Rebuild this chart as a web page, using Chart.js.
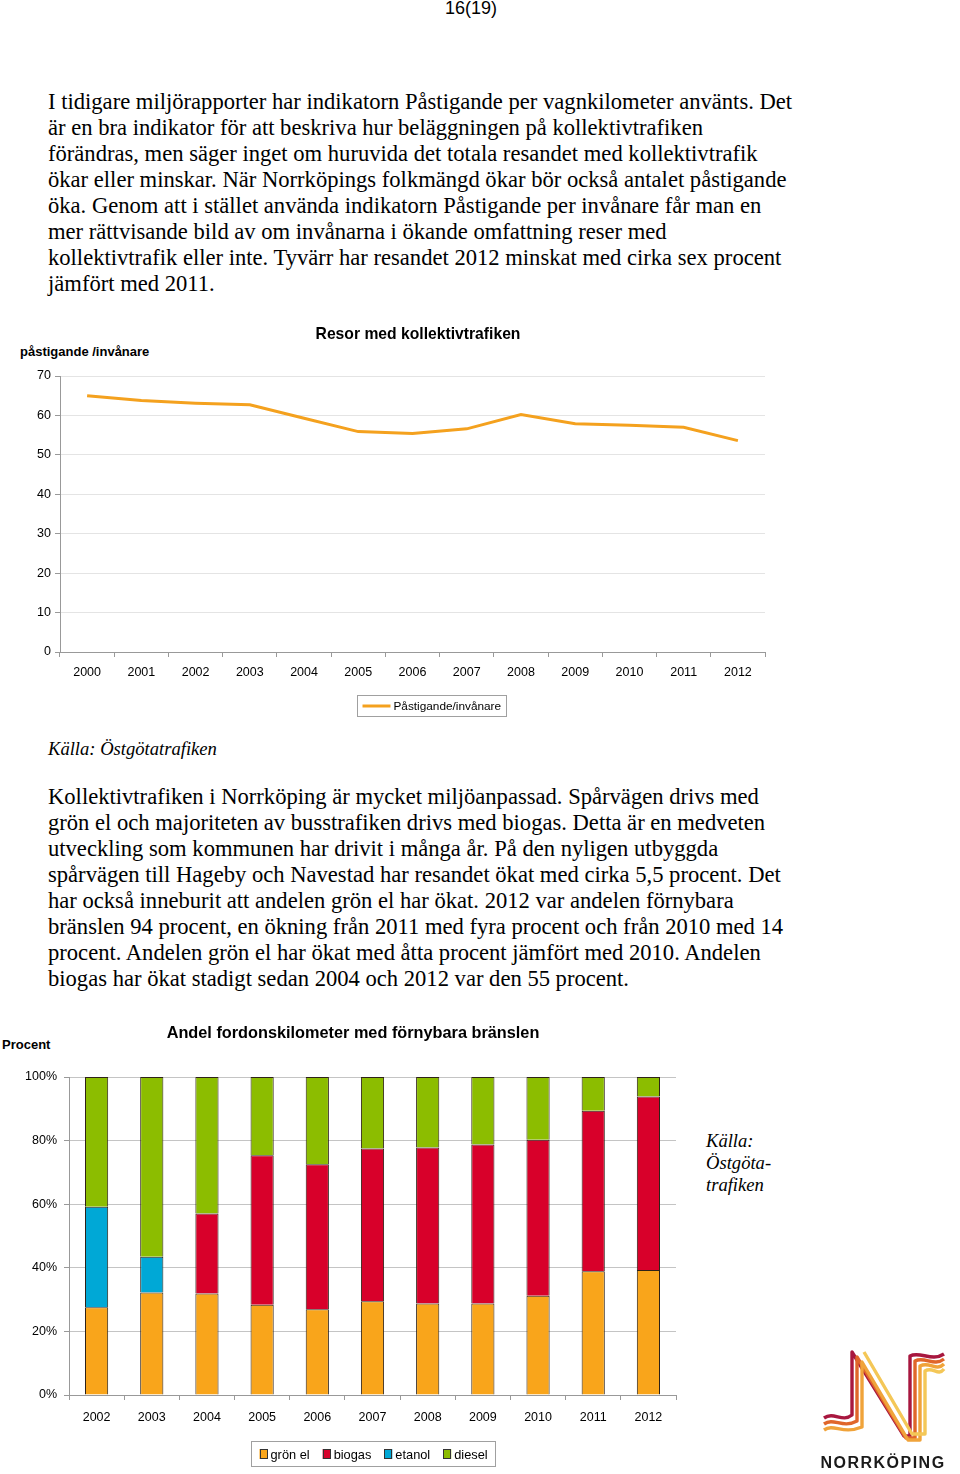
<!DOCTYPE html>
<html>
<head>
<meta charset="utf-8">
<script src="https://cdn.jsdelivr.net/npm/chart.js@4/dist/chart.umd.min.js"></script>
<style>
  html, body { margin: 0; padding: 0; background: #fff; }
  body { width: 960px; height: 1474px; position: relative; overflow: hidden; }
  .t { position: absolute; white-space: nowrap; color: #000; }
  .body { font-family: "Liberation Serif", "Times New Roman", serif; font-size: 22.6px; line-height: 26px; left: 48px; }
  .src { font-family: "Liberation Serif", serif; font-style: italic; font-size: 18.6px; }
  .hdr { font-family: "Liberation Sans", Arial, sans-serif; font-size: 18px; }
  .cap { font-family: "Liberation Sans", Arial, sans-serif; font-weight: bold; font-size: 13px; }
  canvas { position: absolute; }
</style>
</head>
<body>

<div class="t hdr" style="left:445px; top:-2px;">16(19)</div>

<div class="t body" style="top:89px;">
I tidigare miljörapporter har indikatorn Påstigande per vagnkilometer använts. Det<br>
är en bra indikator för att beskriva hur beläggningen på kollektivtrafiken<br>
förändras, men säger inget om huruvida det totala resandet med kollektivtrafik<br>
ökar eller minskar. När Norrköpings folkmängd ökar bör också antalet påstigande<br>
öka. Genom att i stället använda indikatorn Påstigande per invånare får man en<br>
mer rättvisande bild av om invånarna i ökande omfattning reser med<br>
kollektivtrafik eller inte. Tyvärr har resandet 2012 minskat med cirka sex procent<br>
jämfört med 2011.
</div>

<div class="t cap" style="left:20px; top:344px;">påstigande /invånare</div>
<canvas id="lineChart" width="780" height="410" style="left:0; top:320px; width:780px; height:410px;"></canvas>

<div class="t src" style="left:48px; top:738px;">Källa: Östgötatrafiken</div>

<div class="t body" style="top:784px;">
Kollektivtrafiken i Norrköping är mycket miljöanpassad. Spårvägen drivs med<br>
grön el och majoriteten av busstrafiken drivs med biogas. Detta är en medveten<br>
utveckling som kommunen har drivit i många år. På den nyligen utbyggda<br>
spårvägen till Hageby och Navestad har resandet ökat med cirka 5,5 procent. Det<br>
har också inneburit att andelen grön el har ökat. 2012 var andelen förnybara<br>
bränslen 94 procent, en ökning från 2011 med fyra procent och från 2010 med 14<br>
procent. Andelen grön el har ökat med åtta procent jämfört med 2010. Andelen<br>
biogas har ökat stadigt sedan 2004 och 2012 var den 55 procent.
</div>

<div class="t cap" style="left:2px; top:1037px;">Procent</div>
<canvas id="barChart" width="700" height="454" style="left:0; top:1020px; width:700px; height:454px;"></canvas>

<div class="t src" style="left:706px; top:1130px; line-height:22px;">Källa:<br>Östgöta-<br>trafiken</div>

<svg style="position:absolute; left:0; top:0;" width="960" height="1474">
  <g fill="none" stroke-width="3.4" stroke-linejoin="round">
    <path stroke="#a8173f" d="M824 1418 C834 1411 842 1423 852 1415 L852 1352 L904 1436 L910 1436 L910 1356 C920 1351 932 1362 944 1354"/>
    <path stroke="#e0662a" d="M824 1424 C834 1417 842 1429 857 1421 L857 1357 L906 1438 L915 1438 L915 1361 C925 1356 934 1367 944 1359"/>
    <path stroke="#f0a33a" d="M824 1430 C834 1423 842 1435 862 1427 L862 1362 L908 1440 L920 1440 L920 1366 C930 1361 936 1372 944 1364"/>
    <path stroke="#f4c757" d="M864 1352 L912 1434 L925 1434 L925 1371 C933 1366 938 1377 944 1369"/>
  </g>
  <text x="883" y="1468" text-anchor="middle" font-family="Liberation Sans, Arial, sans-serif" font-weight="bold" font-size="16" letter-spacing="1.5" fill="#1a1a1a">NORRKÖPING</text>
</svg>

<script>
// --- Resor med kollektivtrafiken ---
const lineYears = ['2000','2001','2002','2003','2004','2005','2006','2007','2008','2009','2010','2011','2012'];
const pastigandePerInvanare = [65.0, 63.8, 63.1, 62.7, 59.3, 55.9, 55.4, 56.6, 60.2, 57.9, 57.5, 57.0, 53.6];
const lineTicks = [0, 10, 20, 30, 40, 50, 60, 70];

// --- Andel fordonskilometer med förnybara bränslen ---
const barYears = ['2002','2003','2004','2005','2006','2007','2008','2009','2010','2011','2012'];
const gronEl = [27.6, 32.2, 31.9, 28.4, 27.0, 29.5, 28.8, 28.8, 31.2, 38.9, 39.3];
const biogas = [null, null, 25.2, 47.0, 45.6, 48.0, 49.0, 50.0, 49.1, 50.5, 54.6];
const etanol = [31.6, 11.3, null, null, null, null, null, null, null, null, null];
const diesel = [40.8, 56.5, 42.9, 24.6, 27.4, 22.5, 22.2, 21.2, 19.7, 10.6, 6.1];
const barTicks = [0, 20, 40, 60, 80, 100];

const SANS = '"Liberation Sans", Arial, sans-serif';
Chart.defaults.font.family = SANS;
Chart.defaults.font.size = 12.5;
Chart.defaults.color = '#000';
Chart.defaults.animation = false;

// title + boxed legend, drawn from chart data
const decor = {
  id: 'decor',
  afterDraw(chart, args, o) {
    const ctx = chart.ctx;
    ctx.save();
    ctx.fillStyle = '#000';
    ctx.font = 'bold ' + o.titleSize + 'px ' + SANS;
    ctx.textAlign = 'center';
    ctx.textBaseline = 'middle';
    ctx.fillText(o.title, o.titleX, o.titleY);

    ctx.font = o.legendFont + 'px ' + SANS;
    ctx.textAlign = 'left';
    const items = chart.data.datasets.map(ds => ({
      label: ds.label,
      color: chart.config.type === 'line' ? ds.borderColor : ds.backgroundColor,
      w: ctx.measureText(ds.label).width
    }));
    const sw = o.swatch === 'line' ? 28 : 8;
    let total = o.padX * 2;
    items.forEach((it, i) => { total += sw + 3 + it.w + (i ? o.gap : 0); });
    let x = Math.round(o.legendX - total / 2) + 0.5;
    const top = o.legendTop + 0.5, h = o.legendH;
    ctx.strokeStyle = '#a0a0a0';
    ctx.lineWidth = 1;
    ctx.strokeRect(x, top, Math.round(total), h);
    const cy = top + h / 2;
    x += o.padX;
    items.forEach((it, i) => {
      if (i) x += o.gap;
      if (o.swatch === 'line') {
        ctx.strokeStyle = it.color;
        ctx.lineWidth = 3;
        ctx.beginPath();
        ctx.moveTo(x, cy);
        ctx.lineTo(x + sw, cy);
        ctx.stroke();
      } else {
        ctx.fillStyle = it.color;
        ctx.fillRect(x, cy - 5, sw, 10);
        ctx.strokeStyle = '#333';
        ctx.lineWidth = 1;
        ctx.strokeRect(Math.round(x) + 0.5, Math.round(cy - 5) + 0.5, sw - 1, 9);
      }
      ctx.fillStyle = '#000';
      ctx.fillText(it.label, x + sw + 3, cy + 1);
      x += sw + 3 + it.w;
    });
    ctx.restore();
  }
};

new Chart(document.getElementById('lineChart'), {
  type: 'line',
  data: {
    labels: lineYears,
    datasets: [{
      label: 'Påstigande/invånare',
      data: pastigandePerInvanare,
      borderColor: '#f4a11e',
      backgroundColor: '#f4a11e',
      borderWidth: 3,
      pointRadius: 0,
      tension: 0,
      fill: false
    }]
  },
  options: {
    responsive: false,
    layout: { padding: { top: 56, right: 15, bottom: 0, left: 0 } },
    plugins: {
      legend: { display: false },
      tooltip: { enabled: false },
      decor: {
        title: 'Resor med kollektivtrafiken', titleSize: 15.7, titleX: 418, titleY: 14.5,
        legendX: 431, legendTop: 375, legendH: 21, legendFont: 11.8,
        swatch: 'line', padX: 5, gap: 10
      }
    },
    scales: {
      x: {
        offset: true,
        afterFit: s => { s.height = 78; },
        grid: { offset: true, drawOnChartArea: false, tickLength: 5, tickColor: '#999' },
        border: { color: '#999' },
        ticks: { padding: 8, maxRotation: 0 }
      },
      y: {
        min: 0, max: 70,
        afterFit: s => { s.width = 60; },
        afterBuildTicks: s => { s.ticks = lineTicks.map(v => ({ value: v })); },
        grid: { color: '#e4e4e4', tickLength: 5, tickColor: '#999' },
        border: { color: '#999' },
        ticks: { padding: 4 }
      }
    }
  },
  plugins: [decor]
});

const bar = (label, data, color) => ({
  label, data, backgroundColor: color, borderColor: '#2e2218', borderWidth: 1,
  barPercentage: 0.42, categoryPercentage: 1
});

new Chart(document.getElementById('barChart'), {
  type: 'bar',
  data: {
    labels: barYears,
    datasets: [
      bar('grön el', gronEl, '#f9a51b'),
      bar('biogas', biogas, '#d8002a'),
      bar('etanol', etanol, '#00a8d6'),
      bar('diesel', diesel, '#8cbd00')
    ]
  },
  options: {
    responsive: false,
    layout: { padding: { top: 57, right: 24, bottom: 0, left: 0 } },
    plugins: {
      legend: { display: false },
      tooltip: { enabled: false },
      decor: {
        title: 'Andel fordonskilometer med förnybara bränslen', titleSize: 16.3, titleX: 353, titleY: 13.5,
        legendX: 373, legendTop: 421, legendH: 25, legendFont: 12.8,
        swatch: 'box', padX: 8, gap: 13
      }
    },
    scales: {
      x: {
        stacked: true,
        afterFit: s => { s.height = 79; },
        grid: { offset: true, drawOnChartArea: false, tickLength: 5, tickColor: '#999' },
        border: { color: '#999' },
        ticks: { padding: 10, maxRotation: 0 }
      },
      y: {
        stacked: true,
        min: 0, max: 100,
        afterFit: s => { s.width = 69; },
        afterBuildTicks: s => { s.ticks = barTicks.map(v => ({ value: v })); },
        grid: { color: '#c4c4c4', tickLength: 5, tickColor: '#999' },
        border: { color: '#999' },
        ticks: { padding: 7, callback: v => v + '%' }
      }
    }
  },
  plugins: [decor]
});
</script>
</body>
</html>
